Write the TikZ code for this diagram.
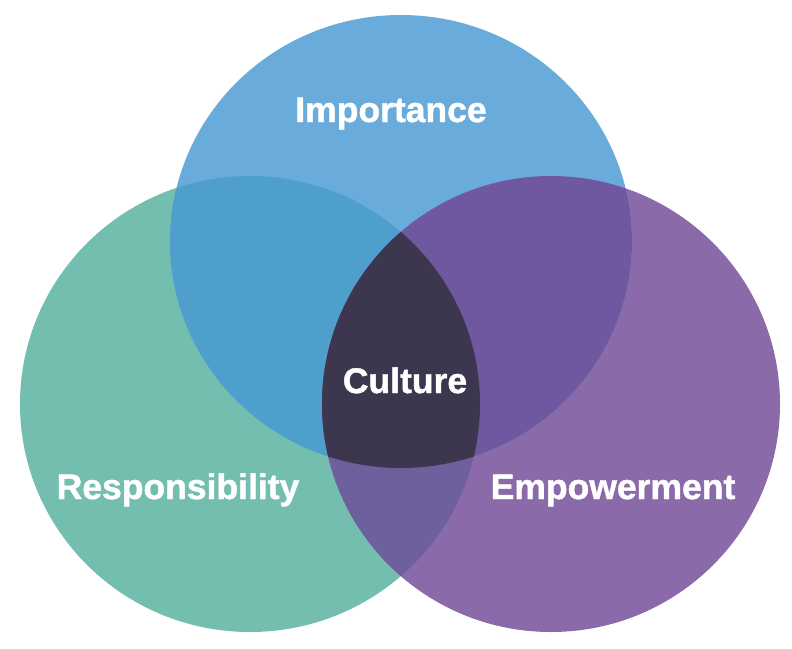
\documentclass[tikz,border=0pt]{standalone}
\usepackage{fontspec}
\setmainfont{Liberation Sans}[BoldFeatures={FakeBold=1.3}]
\definecolor{impcol}{HTML}{69ABDA}
\definecolor{rescol}{HTML}{73BEAF}
\definecolor{empcol}{HTML}{8A6AA8}
\definecolor{impres}{HTML}{4E9FCB}
\definecolor{impemp}{HTML}{6F58A0}
\definecolor{resemp}{HTML}{6D609D}
\definecolor{culcol}{HTML}{3D364F}
% the three sets
\def\Imp{(401,241.5) ellipse [x radius=231pt, y radius=226.5pt]}
\def\Res{(250,404) ellipse [x radius=230pt, y radius=228pt]}
\def\Emp{(551,404) ellipse [x radius=229pt, y radius=228pt]}
\begin{document}
\begin{tikzpicture}[x=1pt,y=-1pt,% pixel coordinates, y downwards
			every node/.style={
				font=\bfseries\fontsize{35.5}{40}\selectfont,
				text=white,
				inner sep=0pt,
				anchor=base	% place labels on their baseline
			}
		]
		\useasboundingbox (0,0) rectangle (792,648);
		\fill[rescol] \Res;
		\fill[empcol] \Emp;
		\fill[impcol] \Imp;
		% pairwise overlaps
		\begin{scope}
			\clip \Imp;
			\fill[impres] \Res;
			\fill[impemp] \Emp;
		\end{scope}
		\begin{scope}
			\clip \Res;
			\fill[resemp] \Emp;
		\end{scope}
		% all three
		\begin{scope}
			\clip \Imp;
			\clip \Res;
			\fill[culcol] \Emp;
		\end{scope}
		\node (Imp) at (391,122) {Importance};
		\node (Cul) at (405,393) {Culture};
		\node (Res) at (178,499) {Responsibility};
		\node (Emp) at (613,499) {Empowerment};
	\end{tikzpicture}
\end{document}
